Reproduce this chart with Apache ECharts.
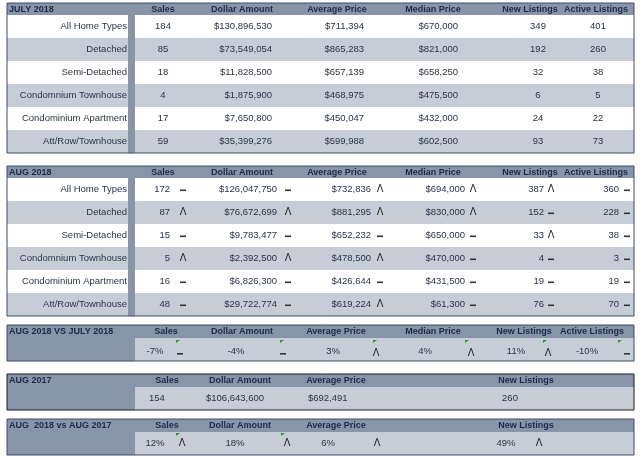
<!DOCTYPE html><html><head><meta charset="utf-8">
<script src="https://cdn.jsdelivr.net/npm/echarts@6/dist/echarts.min.js"></script>
<style>html,body{margin:0;background:#fff}#c{width:642px;height:459px}</style></head><body><div id="c"></div>
<script>
const types=['All Home Types','Detached','Semi-Detached','Condomnium Townhouse','Condominium Apartment','Att/Row/Townhouse'];
const headers=['Sales','Dollar Amount','Average Price','Median Price','New Listings','Active Listings'];
const julSales=['184','85','18','4','17','59'];
const julDollar=['$130,896,530','$73,549,054','$11,828,500','$1,875,900','$7,650,800','$35,399,276'];
const julAvg=['$711,394','$865,283','$657,139','$468,975','$450,047','$599,988'];
const julMedian=['$670,000','$821,000','$658,250','$475,500','$432,000','$602,500'];
const julNew=['349','192','32','6','24','93'];
const julActive=['401','260','38','5','22','73'];
const augSales=['172','87','15','5','16','48'];
const augDollar=['$126,047,750','$76,672,699','$9,783,477','$2,392,500','$6,826,300','$29,722,774'];
const augAvg=['$732,836','$881,295','$652,232','$478,500','$426,644','$619,224'];
const augMedian=['$694,000','$830,000','$650,000','$470,000','$431,500','$61,300'];
const augNew=['387','152','33','4','19','76'];
const augActive=['360','228','38','3','19','70'];
const augMarks=[['-','-','^','^','^','-'],['^','^','^','^','-','-'],['-','-','-','-','^','-'],['^','^','^','-','-','-'],['-','-','-','-','-','-'],['-','-','^','-','-','-']];
const momVals=['-7%','-4%','3%','4%','11%','-10%'];
const momMarks=['-','-','^','^','^','-'];
const y17Headers=['Sales','Dollar Amount','Average Price','New Listings'];
const y17Vals=['154','$106,643,600','$692,491','260'];
const yoyVals=['12%','18%','6%','49%'];
const yoyMarks=['^','^','^','^'];

const SLATE='#8894a8',GREY='#c7cdd7',NAVY='#1c2a4a',TXT='#2a3348',FONT='"Liberation Sans",Arial,sans-serif';
const els=[];
function rect(x,y,w,h,fill,stroke,lw){els.push({type:'rect',shape:{x,y,width:w,height:h},style:{fill:fill||'none',stroke:stroke||null,lineWidth:lw||0},silent:true});}
function text(t,x,y,align,opt){opt=opt||{};els.push({type:'text',x,y,style:{text:t,fill:opt.fill||TXT,font:(opt.bold?'bold ':'')+(opt.size||9.5)+'px '+FONT,align:align||'left',verticalAlign:'middle'},silent:true});}
function mark(m,x,y){if(m==='^')text('Λ',x,y,'center',{size:10,fill:'#222'});else rect(x-3,y,6,1.6,'#333');}
function flag(x,y){els.push({type:'polygon',shape:{points:[[x,y],[x+4,y],[x,y+3]]},style:{fill:'#2a9a2a'},silent:true});}
const L=7,R=634,DIV=128,DW=7;
const hx=[163,242,337,433,530,596];
function bigTable(top,title,rowsFn){
  rect(L,top,R-L,12,SLATE);
  text(title,L+2,top+6.5,'left',{bold:true,fill:NAVY,size:9});
  headers.forEach((h,i)=>text(h,hx[i],top+6.5,'center',{bold:true,fill:NAVY,size:9}));
  for(let r=0;r<6;r++){const y=top+12+r*23;rect(L,y,R-L,23,r%2?GREY:'#fff');
    text(types[r],DIV-1,y+11.5,'right');rowsFn(r,y+11.5);}
  rect(DIV,top+12,DW,138,SLATE);
  rect(L,top,R-L,150,null,'#3d4a66',1);
}
bigTable(3,'JULY 2018',(r,cy)=>{
  text(julSales[r],163,cy,'center');text(julDollar[r],272,cy,'right');text(julAvg[r],364,cy,'right');
  text(julMedian[r],458,cy,'right');text(julNew[r],538,cy,'center');text(julActive[r],598,cy,'center');});
const ar=[170,277,371,465,544,619],am=[183,288,380,473,551,627];
bigTable(166,'AUG 2018',(r,cy)=>{
  [augSales,augDollar,augAvg,augMedian,augNew,augActive].forEach((a,i)=>{text(a[r],ar[i],cy,'right');mark(augMarks[r][i],am[i],cy);});});
function smallTable(top,title,hdrs,hxs,dark){
  rect(L,top,R-L,36,GREY);rect(L,top,R-L,13,SLATE);rect(L,top,DIV+DW-L,36,SLATE);
  text(title,L+2,top+7,'left',{bold:true,fill:NAVY,size:9});
  hdrs.forEach((h,i)=>text(h,hxs[i],top+7,'center',{bold:true,fill:NAVY,size:9}));
  rect(L,top,R-L,36,null,dark?'#1c1c1c':'#3d4a66',1);
}
smallTable(325,'AUG 2018 VS JULY 2018',headers,[166,242,336,433,524,592]);
const mx=[155,236,333,425,516,587],mm=[180,283,376,471,548,627],fx=[176,280,373,465,543,618];
momVals.forEach((v,i)=>{text(v,mx[i],351,'center');mark(momMarks[i],mm[i],353);flag(fx[i],340);});
smallTable(374,'AUG 2017',y17Headers,[167,240,336,526],true);
const y17x=[149,206,308,510],y17a=['left','left','left','center'];
y17Vals.forEach((v,i)=>text(v,y17x[i],398,y17a[i]));
smallTable(419,'AUG  2018 vs AUG 2017',y17Headers,[167,240,336,526]);
const yx=[155,235,328,506],ym=[182,287,377,539];
yoyVals.forEach((v,i)=>{text(v,yx[i],443,'center');mark(yoyMarks[i],ym[i],443);if(i<2)flag(ym[i]-6,433);});
const chart=echarts.init(document.getElementById('c'),null,{renderer:'canvas'});
chart.setOption({animation:false,graphic:{elements:els}});
</script></body></html>
